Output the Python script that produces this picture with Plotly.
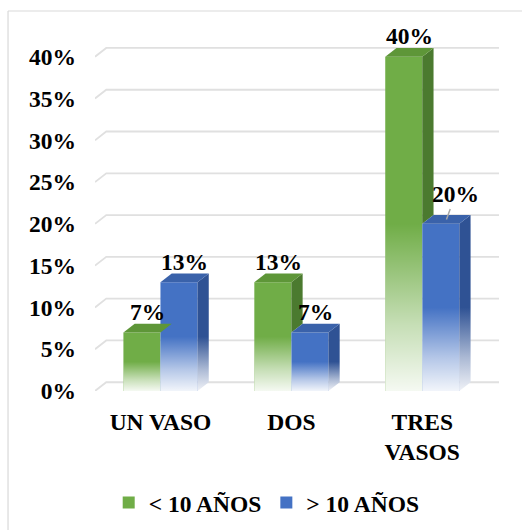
import plotly.graph_objects as go

# ---------------- data ----------------
categories = ["UN VASO", "DOS", "TRES<br>VASOS"]
series_names = ["< 10 AÑOS", "> 10 AÑOS"]
menos_10 = [7, 13, 40]
mas_10 = [13, 7, 20]
y_ticks = [0, 5, 10, 15, 20, 25, 30, 35, 40]
y_tick_labels = ["0%", "5%", "10%", "15%", "20%", "25%", "30%", "35%", "40%"]

# ---------------- style ----------------
FONT = "Liberation Serif, Times New Roman, serif"
FS = 23.5
front_colors = ["#70AD47", "#4472C4"]
top_colors = ["#5E9638", "#3A62AA"]
side_colors = ["#4B7A2F", "#2F5294"]
W = 0.283          # bar width (x units)
DX = 0.086         # depth offset, x units
DY = 1.05          # depth offset, y units
X_MIN, X_MAX = -0.5, 2.5 + DX
Y_MAX = 42.0
GRID = "#E0E0E0"


def hex_rgb(h):
    h = h.lstrip("#")
    return tuple(int(h[i:i + 2], 16) for i in (0, 2, 4))


def mix_white(h, t):
    r, g, b = hex_rgb(h)
    return "rgb(%d,%d,%d)" % (r + (255 - r) * t, g + (255 - g) * t, b + (255 - b) * t)


def fade_scale(h):
    return [[0, mix_white(h, 0.93)], [0.2, mix_white(h, 0.6)],
            [0.5, mix_white(h, 0.0)], [1, mix_white(h, 0.0)]]


values = [menos_10, mas_10]
offsets = [-W, 0.0]
xs = list(range(len(categories)))

fig = go.Figure()

# front faces (real bars)
for s in range(2):
    fig.add_trace(go.Bar(
        x=xs, y=values[s], name=series_names[s], width=W, offset=offsets[s],
        marker=dict(color=front_colors[s], line=dict(width=0)),
        hoverinfo="skip",
    ))

# 3D faces and fading overlays
for i in xs:
    for s in range(2):
        v = values[s][i]
        x0 = i + offsets[s]
        x1 = x0 + W
        # front fade overlay
        fig.add_trace(go.Scatter(
            x=[x0, x1, x1, x0, x0], y=[0, 0, v, v, 0], mode="lines",
            fill="toself", line=dict(width=0), showlegend=False, hoverinfo="skip",
            fillgradient=dict(type="vertical", start=0, stop=v,
                              colorscale=[[0, "rgba(255,255,255,0.93)"],
                                          [0.2, "rgba(255,255,255,0.6)"],
                                          [0.5, "rgba(255,255,255,0)"],
                                          [1, "rgba(255,255,255,0)"]]),
        ))
        # side face
        base = 0
        if s == 0:
            base = values[1][i]
        if v > base:
            fig.add_trace(go.Scatter(
                x=[x1, x1 + DX, x1 + DX, x1, x1],
                y=[base, base + DY, v + DY, v, base], mode="lines",
                fill="toself", line=dict(width=0), showlegend=False, hoverinfo="skip",
                fillgradient=dict(type="vertical", start=0, stop=v,
                                  colorscale=fade_scale(side_colors[s])),
            ))
        # top face
        fig.add_trace(go.Scatter(
            x=[x0, x1, x1 + DX, x0 + DX, x0], y=[v, v, v + DY, v + DY, v],
            mode="lines", fill="toself", fillcolor=top_colors[s],
            line=dict(width=0), showlegend=False, hoverinfo="skip",
        ))

# back-wall gridlines
shapes = []
for t in y_ticks:
    shapes.append(dict(type="path", xref="x", yref="y", layer="below",
                       path="M %f,%f L %f,%f L %f,%f" % (X_MIN, t, X_MIN + DX, t + DY, X_MAX, t + DY),
                       line=dict(color=GRID, width=1.8)))
# outer frame (left and top)
shapes.append(dict(type="line", xref="paper", yref="paper", x0=-0.2153, x1=-0.2153,
                   y0=-0.45, y1=1.0826, line=dict(color="#D9D9D9", width=1.2)))
shapes.append(dict(type="line", xref="paper", yref="paper", x0=-0.2153, x1=1.0569,
                   y0=1.0826, y1=1.0826, line=dict(color="#D9D9D9", width=1.2)))

# value labels
leader = {(1, 2): (9, -25)}
annotations = []
for s in range(2):
    for i in xs:
        v = values[s][i]
        xc = i + offsets[s] + W / 2 + DX / 2
        txt = "<b>%d%%</b>" % v
        if (s, i) in leader:
            ax, ay = leader[(s, i)]
            annotations.append(dict(x=xc, y=v + DY / 2, xref="x", yref="y", text=txt,
                                    showarrow=True, arrowhead=0, arrowwidth=1.5,
                                    arrowcolor="#A6A6A6", ax=ax, ay=ay,
                                    font=dict(family=FONT, size=FS, color="black")))
        else:
            annotations.append(dict(x=xc, y=v + DY, xref="x", yref="y", text=txt,
                                    showarrow=False, yanchor="bottom", yshift=-3,
                                    font=dict(family=FONT, size=FS, color="black")))

fig.update_layout(
    width=532, height=530,
    margin=dict(l=95, r=33, t=40, b=139, autoexpand=False),
    paper_bgcolor="white", plot_bgcolor="white",
    barmode="overlay",
    shapes=shapes, annotations=annotations,
    showlegend=True,
    legend=dict(orientation="h", x=0.425, xanchor="center", y=-0.318, yanchor="middle",
                font=dict(family=FONT, size=FS, color="black", weight="bold"),
                itemclick=False, itemdoubleclick=False),
    xaxis=dict(range=[X_MIN, X_MAX], tickvals=xs, ticktext=categories,
               showgrid=False, zeroline=False, showline=False, ticks="",
               ticklabelstandoff=14, automargin=False,
               tickfont=dict(family=FONT, size=FS, color="black", weight="bold")),
    yaxis=dict(range=[0, Y_MAX], tickvals=y_ticks, ticktext=y_tick_labels,
               showgrid=False, zeroline=False, showline=False, ticks="",
               ticklabelstandoff=18, automargin=False,
               tickfont=dict(family=FONT, size=FS, color="black", weight="bold")),
)

fig.write_html("out.html")
